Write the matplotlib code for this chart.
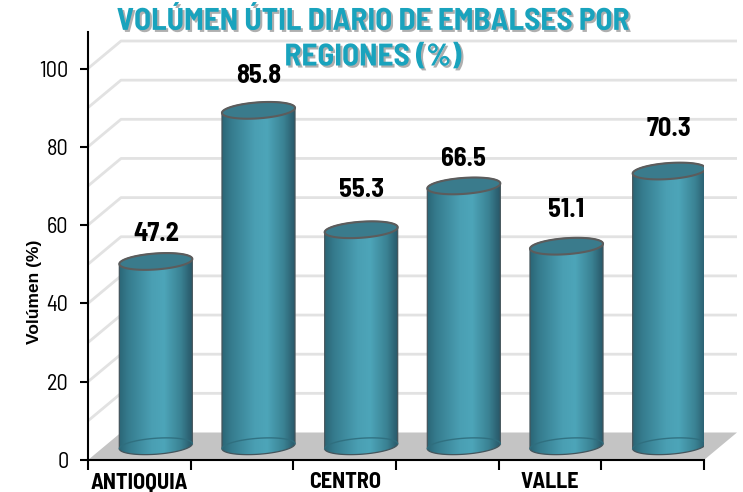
import numpy as np
import matplotlib.pyplot as plt
from matplotlib.patches import Polygon
from matplotlib.colors import LinearSegmentedColormap
import matplotlib.patheffects as pe

# data
regions = ["ANTIOQUIA", "", "CENTRO", "", "VALLE", ""]
volumen = [47.2, 85.8, 55.3, 66.5, 51.1, 70.3]
yticks = [0, 20, 40, 60, 80, 100]
title1 = "VOLÚMEN ÚTIL DIARIO DE EMBALSES POR"
title2 = "REGIONES (%)"

NARROW = ["Barlow Semi Condensed", "DejaVu Sans"]

W, H = 743, 492
fig = plt.figure(figsize=(W / 100, H / 100), dpi=100)
ax_l, ax_r, ax_b, ax_t = 88, 704, 460, 31.7   # pixel box of the front plane
ax = fig.add_axes([ax_l / W, (H - ax_b) / H, (ax_r - ax_l) / W, (ax_b - ax_t) / H])
ymax = 109.4
px_x = (ax_r - ax_l) / 6
px_y = (ax_b - ax_t) / ymax

# depth of the 3d box in data units
dx = 33 / px_x
dy = 27.5 / px_y

# floor
ax.add_patch(Polygon([(0, 0), (6, 0), (6 + dx, dy), (dx, dy)], closed=True,
                     facecolor="#c4c4c4", edgecolor="none", clip_on=False, zorder=1))

# side + back wall gridlines
for v in range(10, 101, 10):
    ax.plot([0, dx, 6 + dx], [v, v + dy, v + dy], color="#e2e2e2", lw=2,
            solid_capstyle="butt", clip_on=False, zorder=0.5)

# cylinders
cmap = LinearSegmentedColormap.from_list("cyl", [
    (0.0, "#2b6676"), (0.12, "#357b8d"), (0.45, "#4a9fb3"),
    (0.62, "#4da5b9"), (0.85, "#3a8293"), (1.0, "#29596a")])
grad = np.linspace(0, 1, 200).reshape(1, -1)

a = 36.5 / px_x        # half width
b = 8.0 / px_y         # half height of ellipse
s = 2.5 / px_y         # tilt of ellipse
base = dy / 2
t = np.linspace(0, 2 * np.pi, 200)

def ell(cx, cy, tt):
    return np.column_stack([cx + a * np.cos(tt), cy + b * np.sin(tt) + s * np.cos(tt)])

label_lift = [27.5, 34, 40, 27, 36, 42]   # px above cap

for i, v in enumerate(volumen):
    cx = i + 0.5 + dx / 2
    top = v + dy / 2
    front = ell(cx, base, np.linspace(np.pi, 2 * np.pi, 100))
    back_top = ell(cx, top, np.linspace(0, np.pi, 100))
    body = np.vstack([front, back_top])
    poly = Polygon(body, closed=True, facecolor="none", edgecolor="#44555c",
                   lw=0.9, zorder=3)
    ax.add_patch(poly)
    im = ax.imshow(grad, cmap=cmap, aspect="auto", zorder=2,
                   extent=[cx - a, cx + a, base - b - s, top + b + s])
    im.set_clip_path(poly)
    # back half of bottom ellipse seen through the body
    bk = ell(cx, base, np.linspace(0, np.pi, 100))
    ax.plot(bk[:, 0], bk[:, 1], color="#2f6e7e", lw=1, alpha=0.9, zorder=3)
    # top cap
    cap = Polygon(ell(cx, top, t), closed=True, facecolor="#3a7b8c",
                  edgecolor="#5c5c5c", lw=1.5, zorder=4)
    ax.add_patch(cap)
    ax.text(cx, top + label_lift[i] / px_y, f"{v:.1f}", ha="center", va="center",
            fontsize=19, fontweight="bold", family=NARROW, zorder=5)

ax.set_xlim(0, 6)
ax.set_ylim(0, ymax)

# axes
for sp in ["top", "right"]:
    ax.spines[sp].set_visible(False)
ax.spines["left"].set_linewidth(1.5)
ax.spines["bottom"].set_linewidth(1.5)
ax.set_yticks(yticks)
ax.set_yticklabels([str(y) for y in yticks], family=NARROW, fontsize=16)
ax.tick_params(axis="y", length=6, width=1.5, pad=8)
ax.set_xticks(range(7))
ax.set_xticklabels([""] * 7)
ax.tick_params(axis="x", which="major", length=7, width=1.5)
ax.set_xticks(np.arange(6) + 0.5, minor=True)
ax.set_xticklabels(regions, minor=True, family=NARROW, fontsize=16, fontweight="bold")
ax.tick_params(axis="x", which="minor", length=0, pad=9)
ax.patch.set_alpha(0)

fig.text(35 / W, 1 - 292 / H, "Volúmen (%)", rotation=90, ha="center", va="center",
         family=["Liberation Sans", "DejaVu Sans"], fontsize=12.5, fontweight="bold")

shadow = [pe.withSimplePatchShadow(offset=(1.5, -1.5), shadow_rgbFace="#7a7a7a", alpha=0.6)]
fig.text(0.502, 1 - 22 / H, title1, ha="center", va="center", color="#19a3bd",
         fontsize=22.5, fontweight="bold", family=NARROW, path_effects=shadow)
fig.text(0.502, 1 - 58 / H, title2, ha="center", va="center", color="#19a3bd",
         fontsize=22.5, fontweight="bold", family=NARROW, path_effects=shadow)

fig.savefig("out.png", dpi=100)
